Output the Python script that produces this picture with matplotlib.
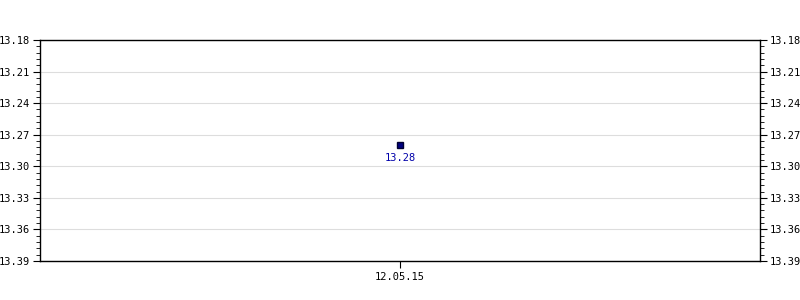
import matplotlib
matplotlib.use('Agg')
import matplotlib.pyplot as plt
import matplotlib.ticker as mt

dates = ['12.05.15']
values = [13.28]
y_ticks = [13.18, 13.21, 13.24, 13.27, 13.30, 13.33, 13.36, 13.39]


def main():
    fig = plt.figure(figsize=(8, 3), dpi=100)
    ax = fig.add_axes([0.05, 0.13, 0.90, 0.7367])

    x = list(range(len(dates)))
    ax.plot(x, values, linestyle='none', marker='s', markersize=4,
            markerfacecolor='#000080', markeredgecolor='#000033', zorder=3)
    for xi, v in zip(x, values):
        ax.annotate('{:.2f}'.format(v), (xi, v), xytext=(0, -13),
                    textcoords='offset points', ha='center', va='bottom',
                    color='#0000aa', family='DejaVu Sans Mono', fontsize=7.5)

    ax.set_xlim(-1, 1)
    ax.set_xticks(x)
    ax.set_xticklabels(dates)
    ax.set_ylim(y_ticks[-1], y_ticks[0])
    ax.yaxis.set_major_locator(mt.FixedLocator(y_ticks))
    ax.yaxis.set_major_formatter(mt.FormatStrFormatter('%.2f'))
    ax.yaxis.set_minor_locator(mt.AutoMinorLocator(5))

    ax.grid(axis='y', color='#dddddd', linewidth=0.8)
    ax.set_axisbelow(True)
    for s in ax.spines.values():
        s.set_color('black')
        s.set_linewidth(1)

    ax.tick_params(axis='y', which='both', left=True, right=True,
                   labelleft=True, labelright=True, direction='out')
    ax.tick_params(axis='y', which='major', length=5, pad=2)
    ax.tick_params(axis='y', which='minor', length=3)
    ax.tick_params(axis='x', length=5, pad=3)
    for lab in ax.get_xticklabels() + ax.get_yticklabels():
        lab.set_family('DejaVu Sans Mono')
        lab.set_fontsize(7.5)
    for t in ax.yaxis.get_major_ticks():
        t.label2.set_family('DejaVu Sans Mono')
        t.label2.set_fontsize(7.5)

    fig.savefig('out.png')


if __name__ == '__main__':
    main()
